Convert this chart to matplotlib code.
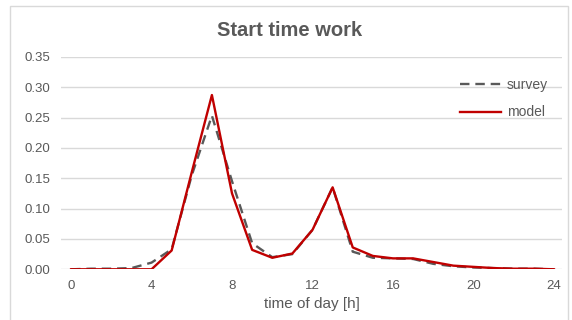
import numpy as np
import matplotlib.pyplot as plt
from matplotlib.patches import Rectangle

hours = list(range(25))
survey = [0.0, 0.001, 0.001, 0.002, 0.011, 0.033, 0.155, 0.253, 0.145, 0.043, 0.02, 0.025,
          0.065, 0.135, 0.029, 0.019, 0.018, 0.017, 0.009, 0.005, 0.003, 0.002, 0.001, 0.001, 0.0]
model = [0.0, 0.0, 0.0, 0.0, 0.0, 0.031, 0.16, 0.287, 0.125, 0.032, 0.019, 0.026,
         0.065, 0.135, 0.036, 0.022, 0.018, 0.018, 0.012, 0.006, 0.004, 0.002, 0.001, 0.001, 0.0]
xticks = [0, 4, 8, 12, 16, 20, 24]
yticks = [0.0, 0.05, 0.10, 0.15, 0.20, 0.25, 0.30, 0.35]

txt = '#595959'
plt.rcParams['font.family'] = ['Liberation Sans', 'DejaVu Sans']

fig = plt.figure(figsize=(5.72, 3.2), dpi=100)
fig.patches.append(Rectangle((10/572, -0.05), 558/572, 1.05 - 6/320, transform=fig.transFigure,
                             fill=False, edgecolor='#d9d9d9', linewidth=1))
ax = fig.add_axes([61/572, 1 - 269.3/320, 501/572, 212.5/320])

ax.plot(hours, survey, color='#595959', linewidth=1.7, dashes=(4, 2.5), label='survey')
ax.plot(hours, model, color='#c00000', linewidth=1.7, label='model')

ax.set_xlim(-0.5, 24.4)
ax.set_ylim(0, 0.35)
ax.set_xticks(xticks)
ax.set_yticks(yticks)
ax.set_yticklabels(['%.2f' % v for v in yticks])
ax.grid(axis='y', color='#d9d9d9', linewidth=1)
ax.set_axisbelow(True)
for s in ax.spines.values():
    s.set_visible(False)
ax.tick_params(length=0, labelsize=9.5, labelcolor=txt)
ax.tick_params(axis='x', pad=8)
ax.tick_params(axis='y', pad=8)

ax.set_xlabel('time of day [h]', fontsize=11, color=txt, labelpad=3)
fig.text(0.507, 1 - 31/320, 'Start time work', ha='center', va='center',
         fontsize=14.5, fontweight='bold', color=txt)

ax.legend(loc='upper left', bbox_to_anchor=(447/572, 1 - 65/320), bbox_transform=fig.transFigure,
          frameon=False, fontsize=10, labelcolor=txt, handlelength=3.0, handletextpad=0.4,
          labelspacing=1.0)

plt.savefig('out.png', dpi=100)
